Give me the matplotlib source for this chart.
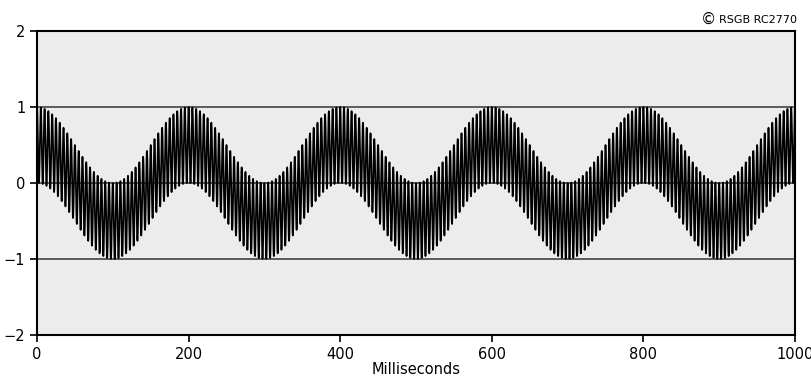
import numpy as np
import matplotlib
matplotlib.use("Agg")
import matplotlib.pyplot as plt

# Signal parameters
duration_ms = 1000          # x range
mod_freq_hz = 5             # slow component: period 200 ms
mod_amp = 0.5
carrier_freq_hz = 200       # fast component: ~5 ms period
carrier_amp = 0.5
y_ticks = [-2, -1, 0, 1, 2]
x_ticks = [0, 200, 400, 600, 800, 1000]
ref_lines = [-1, 0, 1]

t = np.linspace(0, duration_ms, 40001)
sig = (mod_amp * np.cos(2 * np.pi * mod_freq_hz * t / 1000)
       + carrier_amp * np.cos(2 * np.pi * carrier_freq_hz * t / 1000))

fig = plt.figure(figsize=(8.11, 3.78), dpi=100)
ax = fig.add_axes([37 / 811, 1 - 335 / 378, (795 - 37) / 811, (335 - 31) / 378])
ax.set_facecolor("#ececec")

for yv in ref_lines:
    ax.axhline(yv, color="#505050", lw=1.3, zorder=1)

ax.plot(t, sig, color="black", lw=1.25, zorder=2)

ax.set_xlim(0, duration_ms)
ax.set_ylim(-2, 2)
ax.set_xticks(x_ticks)
ax.set_yticks(y_ticks)
ax.set_yticklabels(["\u22122", "\u22121", "0", "1", "2"])
ax.tick_params(direction="out", length=5, width=1.2, labelsize=10.5, color="black")
for s in ax.spines.values():
    s.set_linewidth(1.5)
    s.set_color("black")
ax.set_xlabel("Milliseconds", fontsize=10.5, labelpad=0)

fig.text(797 / 811, 1 - 20 / 378, "RSGB RC2770", ha="right", va="center", fontsize=8)
fig.text(716 / 811, 1 - 19.5 / 378, "\u00a9", ha="right", va="center", fontsize=11)

fig.savefig("out.png", dpi=100)
